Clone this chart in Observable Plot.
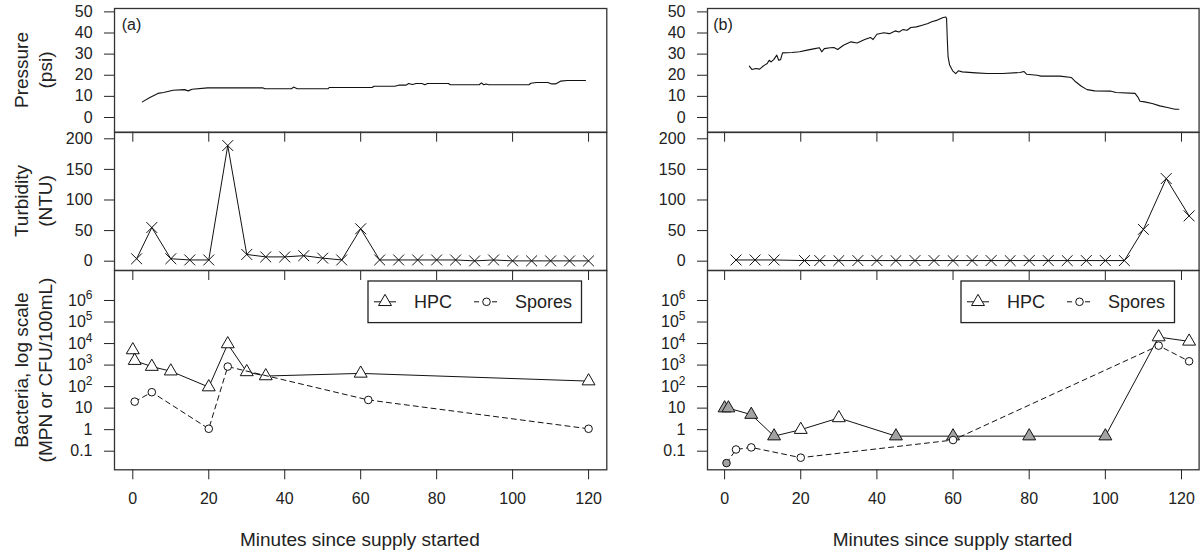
<!DOCTYPE html>
<html>
<head>
<meta charset="utf-8">
<script src="https://cdn.jsdelivr.net/npm/d3@7"></script>
<script src="https://cdn.jsdelivr.net/npm/@observablehq/plot@0.6"></script>
<style>
  html, body { margin: 0; padding: 0; background: #fff; }
  #root { position: relative; width: 1201px; height: 554px; overflow: hidden;
          font-family: "Liberation Sans", Arial, Helvetica, sans-serif; color: #222; background: #fff; }
  .ytitle { position: absolute; white-space: nowrap; text-align: center; font-size: 19px; line-height: 24px;
            transform: translate(-50%, -50%) rotate(-90deg); }
  .xtitle { position: absolute; white-space: nowrap; font-size: 19px; transform: translate(-50%, -50%); }
  .tag { position: absolute; font-size: 16px; transform: translateY(-50%); }
</style>
</head>
<body>
<div id="root"></div>
<script>
// ---------------- data ----------------
const xTicks = [0, 20, 40, 60, 80, 100, 120];
const pressureTicks = [0, 10, 20, 30, 40, 50];
const turbTicks = [0, 50, 100, 150, 200];
const bactTicks = [0.1, 1, 10, 100, 1e3, 1e4, 1e5, 1e6];
const bactTickLabels = ["0.1", "1", "10", "10^2", "10^3", "10^4", "10^5", "10^6"];

const panelTags = ["(a)", "(b)"];
const seriesNames = ["HPC", "Spores"];
const xTitle = "Minutes since supply started";
const yTitles = [["Pressure", "(psi)"], ["Turbidity", "(NTU)"], ["Bacteria, log scale", "(MPN or CFU/100mL)"]];

// Pressure (psi), panel (a)
const pressureA_t = [2.5, 4.5, 6.6, 8.1, 10.6, 13.6, 14.6, 15.6, 19.7, 34.3, 34.8, 41.8, 42.3, 43.3, 51.4, 51.7, 63, 63.5, 69, 70, 72, 72.6, 73.6, 74.6, 76.1, 76.9, 77.6, 83.1, 83.6, 91.2, 91.8, 92.4, 93, 93.7, 104.3, 104.8, 106.3, 109.3, 110.3, 111.3, 112.6, 114.4, 119.2];
const pressureA_v = [7.4, 9.5, 11.4, 11.8, 12.9, 13.2, 12.6, 13.4, 14.0, 14.0, 13.6, 13.6, 14.4, 13.6, 13.6, 14.2, 14.2, 14.8, 14.8, 15.3, 15.3, 16.1, 15.6, 16.1, 16.1, 15.5, 16.1, 16.1, 15.5, 15.5, 16.4, 15.5, 15.9, 15.5, 15.5, 16.2, 16.6, 16.6, 15.9, 15.9, 17.2, 17.5, 17.5];

// Pressure (psi), panel (b)
const pressureB_t = [6.5, 7.2, 8.2, 9.2, 9.9, 10.5, 11.2, 11.7, 12.2, 12.9, 13.7, 14.2, 14.7, 15.2, 17.7, 19.7, 21.7, 23.7, 24.9, 25.5, 26.2, 27.7, 28.7, 29.7, 31.2, 33.2, 34.8, 36.8, 38.3, 39.0, 40.0, 41.8, 43.3, 44.8, 45.8, 46.8, 47.9, 48.9, 50.4, 51.9, 53.4, 54.4, 55.9, 57.4, 58.1, 58.3, 58.5, 58.7, 59.1, 59.9, 60.7, 61.4, 62.4, 66, 69, 73, 77.6, 78.6, 79.3, 82.1, 83.1, 88.1, 91.1, 92.2, 93.7, 95.2, 97.2, 101.3, 102.8, 107.8, 108.5, 109.1, 110.3, 112.3, 114.3, 116.3, 118.3, 119.3];
const pressureB_v = [24.3, 22.7, 23.2, 22.9, 24.0, 24.8, 25.6, 27.1, 26.3, 27.4, 29.5, 27.1, 27.4, 30.6, 30.8, 31.1, 31.9, 32.6, 33.0, 31.1, 32.6, 33.0, 33.1, 32.2, 34.2, 35.8, 35.3, 36.9, 37.9, 36.9, 39.4, 40.1, 39.7, 41.0, 40.5, 41.6, 41.3, 42.6, 42.9, 43.7, 44.5, 45.3, 46.1, 47.3, 47.6, 46.8, 36.6, 28.7, 24.8, 22.1, 20.8, 22.1, 21.6, 21.1, 20.8, 20.8, 21.3, 21.8, 20.5, 20.0, 19.6, 19.6, 18.9, 16.9, 14.8, 13.2, 12.6, 12.5, 11.8, 11.4, 9.8, 7.7, 7.4, 6.6, 5.5, 4.7, 3.9, 3.9];

// Turbidity (NTU)
const turbA_t = [1, 5, 10, 15, 20, 25, 30, 35, 40, 45, 50, 55, 60, 65, 70, 75, 80, 85, 90, 95, 100, 105, 110, 115, 120];
const turbA_v = [4, 55, 4, 2, 2, 189, 11, 7, 7, 9, 5, 2, 53, 2, 2, 2, 2, 2, 0.5, 2, 0.5, 0.5, 0.5, 0.5, 0.5];
const turbB_t = [3, 8, 13, 21, 25, 30, 35, 40, 45, 50, 55, 60, 65, 70, 75, 80, 85, 90, 95, 100, 105, 110, 116, 122];
const turbB_v = [2, 2, 2, 1, 1, 1, 1, 1, 1, 1, 1, 1, 1, 1, 1, 1, 1, 1, 1, 1, 1, 52, 135, 74];

// Bacteria (MPN or CFU/100mL); nd = below detection (grey symbol)
const hpcA_t = [0, 0.5, 5, 10, 20, 25, 30, 35, 60, 120];
const hpcA_v = [5000, 1600, 850, 520, 95, 9500, 480, 310, 410, 180];
const hpcA_nd = [0, 0, 0, 0, 0, 0, 0, 0, 0, 0];
const sporesA_t = [0.5, 5, 20, 25, 62, 120];
const sporesA_v = [20, 55, 1.1, 850, 24, 1.1];
const sporesA_nd = [0, 0, 0, 0, 0, 0];

const hpcB_t = [0, 1, 7, 13, 20, 30, 45, 60, 80, 100, 114, 122];
const hpcB_v = [10, 10, 5, 0.5, 1, 3.5, 0.5, 0.5, 0.5, 0.5, 20000, 12600];
const hpcB_nd = [1, 1, 1, 1, 0, 0, 1, 1, 1, 1, 0, 0];
const sporesB_t = [0.5, 3, 7, 20, 60, 114, 122];
const sporesB_v = [0.028, 0.12, 0.15, 0.05, 0.33, 8000, 1500];
const sporesB_nd = [1, 0, 0, 0, 0, 0, 0];

// ---------------- helpers ----------------
const FONT = '"Liberation Sans", Arial, Helvetica, sans-serif';
const INK = "#111";
const GREY = "#a3a3a3";
const toRows = (t, v, nd) => t.map((d, i) => ({t: d, v: v[i], nd: nd ? nd[i] : 0}));

const root = document.getElementById("root");

const cols = [
  {x0: 113.7, x1: 606.0, xDomain: [-4.82, 124.8]},
  {x0: 706.7, x1: 1198.3, xDomain: [-4.49, 124.62]}
];
const rows = [
  {y0: 8.3, y1: 132, y: {domain: [-6.96, 51.6]}, ticks: pressureTicks, fmt: d => String(d)},
  {y0: 132, y1: 270, y: {domain: [-15.2, 210.3]}, ticks: turbTicks, fmt: d => String(d)},
  {y0: 270, y1: 469.3, y: {type: "log", domain: [Math.pow(10, -1.864), Math.pow(10, 7.393)]}, ticks: bactTicks,
   fmt: d => bactTickLabels[bactTicks.indexOf(d)], sup: true}
];

// turn "10^k" tick labels into 10 with a superscript tspan
function superscriptLabels(svg) {
  svg.querySelectorAll("text").forEach(t => {
    const s = t.textContent;
    if (s.includes("^")) {
      const [base, exp] = s.split("^");
      t.textContent = base;
      const ts = document.createElementNS("http://www.w3.org/2000/svg", "tspan");
      ts.setAttribute("dy", "-7");
      ts.setAttribute("font-size", "12");
      ts.textContent = exp;
      t.appendChild(ts);
    }
  });
}

function panel(col, row, marks, bottom) {
  const ml = 70, mr = 12, mt = 12, mb = bottom ? 45 : 22;
  const w = (col.x1 - col.x0), h = (row.y1 - row.y0);
  const svg = Plot.plot({
    width: w + ml + mr,
    height: h + mt + mb,
    marginLeft: ml, marginRight: mr, marginTop: mt, marginBottom: mb,
    style: {background: "transparent", overflow: "visible", maxWidth: "none",
            fontFamily: FONT, fontSize: "16px", color: "#222"},
    x: {domain: col.xDomain, axis: null},
    y: {...row.y, axis: null},
    marks: [
      Plot.axisY({ticks: row.ticks, tickSize: 10, tickPadding: 12, tickFormat: row.fmt, label: null}),
      Plot.axisX({ticks: xTicks, tickSize: 10, tickPadding: 13,
                  tickFormat: bottom ? (d => String(d)) : (() => ""), label: null}),
      ...marks,
      Plot.frame({stroke: "#333", strokeWidth: 1.3})
    ]
  });
  if (row.sup) superscriptLabels(svg);
  svg.style.position = "absolute";
  svg.style.left = (col.x0 - ml) + "px";
  svg.style.top = (row.y0 - mt) + "px";
  root.appendChild(svg);
}

function pressureMarks(t, v) {
  return [Plot.line(toRows(t, v), {x: "t", y: "v", stroke: INK, strokeWidth: 1.1})];
}
function turbMarks(t, v) {
  const d = toRows(t, v);
  return [
    Plot.line(d, {x: "t", y: "v", stroke: INK, strokeWidth: 1}),
    Plot.dot(d, {x: "t", y: "v", symbol: "times", r: 5, stroke: INK, strokeWidth: 1})
  ];
}
function bactMarks(ht, hv, hnd, st, sv, snd) {
  const h = toRows(ht, hv, hnd), s = toRows(st, sv, snd);
  return [
    Plot.line(h, {x: "t", y: "v", stroke: INK, strokeWidth: 1}),
    Plot.dot(h, {x: "t", y: "v", symbol: "triangle", r: 4.8, stroke: INK, strokeWidth: 1,
                 fill: d => d.nd ? GREY : "white"}),
    Plot.line(s, {x: "t", y: "v", stroke: INK, strokeWidth: 1, strokeDasharray: "5,4"}),
    Plot.dot(s, {x: "t", y: "v", symbol: "circle", r: 3.8, stroke: INK, strokeWidth: 1,
                 fill: d => d.nd ? GREY : "white"})
  ];
}

// ---------------- panels ----------------
panel(cols[0], rows[0], pressureMarks(pressureA_t, pressureA_v), false);
panel(cols[1], rows[0], pressureMarks(pressureB_t, pressureB_v), false);
panel(cols[0], rows[1], turbMarks(turbA_t, turbA_v), false);
panel(cols[1], rows[1], turbMarks(turbB_t, turbB_v), false);
panel(cols[0], rows[2], bactMarks(hpcA_t, hpcA_v, hpcA_nd, sporesA_t, sporesA_v, sporesA_nd), true);
panel(cols[1], rows[2], bactMarks(hpcB_t, hpcB_v, hpcB_nd, sporesB_t, sporesB_v, sporesB_nd), true);

// ---------------- legends ----------------
function legend(col) {
  const lx = col.x0 + 254.3, ly = 280.7, lw = 213.5, lh = 41.6;
  const svg = d3.create("svg")
    .attr("width", lw + 4).attr("height", lh + 4)
    .style("position", "absolute").style("left", (lx - 2) + "px").style("top", (ly - 2) + "px")
    .style("overflow", "visible")
    .attr("font-family", FONT).attr("font-size", 18).attr("fill", "#222");
  const g = svg.append("g").attr("transform", "translate(2,2)");
  g.append("rect").attr("width", lw).attr("height", lh).attr("fill", "white")
    .attr("stroke", "#222").attr("stroke-width", 1.3);
  const cy = lh / 2;
  // HPC
  g.append("line").attr("x1", 6).attr("x2", 28).attr("y1", cy).attr("y2", cy).attr("stroke", INK);
  g.append("path").attr("d", d3.symbol(d3.symbolTriangle, Math.PI * 4.8 * 4.8)())
    .attr("transform", `translate(17,${cy})`).attr("fill", "white").attr("stroke", INK);
  g.append("text").attr("x", 46).attr("y", cy).attr("dy", "0.35em").text(seriesNames[0]);
  // Spores
  g.append("line").attr("x1", 106).attr("x2", 130).attr("y1", cy).attr("y2", cy)
    .attr("stroke", INK).attr("stroke-dasharray", "5,4");
  g.append("circle").attr("cx", 118.5).attr("cy", cy).attr("r", 3.8).attr("fill", "white").attr("stroke", INK);
  g.append("text").attr("x", 204).attr("y", cy).attr("dy", "0.35em").attr("text-anchor", "end").text(seriesNames[1]);
  root.appendChild(svg.node());
}
legend(cols[0]);
legend(cols[1]);

// ---------------- texts ----------------
function addDiv(cls, html, left, top) {
  const d = document.createElement("div");
  d.className = cls;
  d.innerHTML = html;
  d.style.left = left + "px";
  d.style.top = top + "px";
  root.appendChild(d);
  return d;
}
addDiv("tag", panelTags[0], cols[0].x0 + 8, 25);
addDiv("tag", panelTags[1], cols[1].x0 + 6.5, 25);
rows.forEach((r, i) => addDiv("ytitle", yTitles[i].join("<br>"), 33.5, (r.y0 + r.y1) / 2));
cols.forEach(c => addDiv("xtitle", xTitle, (c.x0 + c.x1) / 2, 540));
</script>
</body>
</html>
